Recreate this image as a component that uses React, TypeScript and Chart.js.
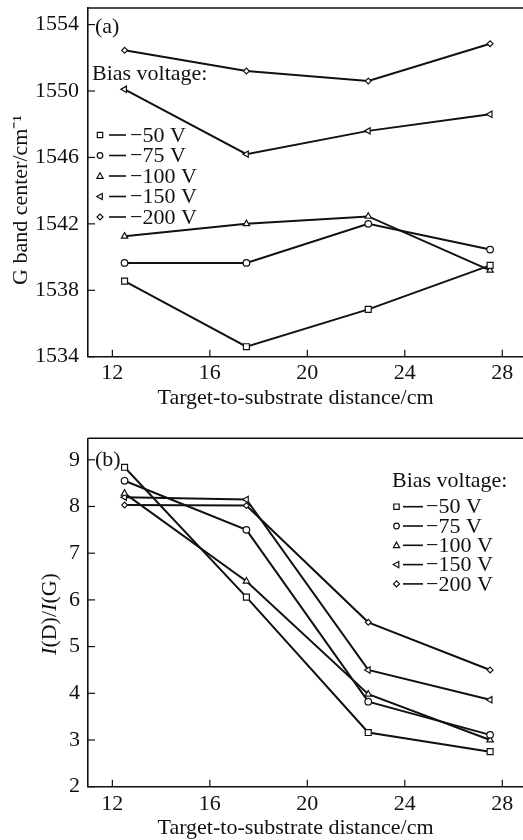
import React, { useEffect, useRef } from 'react';
import { Chart, registerables } from 'chart.js';

Chart.register(...registerables);

// ---------- data ----------
const distances = [12.5, 17.5, 22.5, 27.5];
const biasLabelsTop = ['−50 V', '−75 V', '−100 V', '−150 V', '−200 V'];
const biasLabelsBottom = ['−50 V', '−75 V', '−100 V', '−150 V', '−200 V'];

const gBand50 = [1538.55, 1534.6, 1536.85, 1539.5];
const gBand75 = [1539.65, 1539.65, 1542.0, 1540.45];
const gBand100 = [1541.25, 1542.0, 1542.45, 1539.2];
const gBand150 = [1550.1, 1546.2, 1547.6, 1548.6];
const gBand200 = [1552.45, 1551.2, 1550.6, 1552.85];

const ratio50 = [8.84, 6.06, 3.16, 2.75];
const ratio75 = [8.55, 7.5, 3.82, 3.11];
const ratio100 = [8.28, 6.4, 3.98, 3.0];
const ratio150 = [8.2, 8.15, 4.5, 3.86];
const ratio200 = [8.03, 8.02, 5.52, 4.5];

const xTicks = [12, 16, 20, 24, 28];
const gTicks = [1534, 1538, 1542, 1546, 1550, 1554];
const ratioTicks = [2, 3, 4, 5, 6, 7, 8, 9];

// ---------- styling ----------
const INK = '#111';
const FONT = "'Liberation Serif', 'Times New Roman', serif";
const FS = 22;
const markerStyles = [
  { pointStyle: 'rect', radius: 4.2, rotation: 0, legend: 'rect' },
  { pointStyle: 'circle', radius: 3.3, rotation: 0, legend: 'circle' },
  { pointStyle: 'triangle', radius: 3.7, rotation: 0, legend: 'triangle' },
  { pointStyle: 'triangle', radius: 3.7, rotation: -90, legend: 'triangleLeft' },
  { pointStyle: 'rectRot', radius: 2.9, rotation: 0, legend: 'diamond' },
];

function drawLegendMarker(ctx: CanvasRenderingContext2D, kind: string, x: number, y: number) {
  ctx.beginPath();
  if (kind === 'rect') {
    ctx.rect(x - 2.7, y - 2.7, 5.4, 5.4);
  } else if (kind === 'circle') {
    ctx.arc(x, y, 2.8, 0, Math.PI * 2);
  } else if (kind === 'triangle') {
    ctx.moveTo(x, y - 3.3);
    ctx.lineTo(x + 3.1, y + 2.3);
    ctx.lineTo(x - 3.1, y + 2.3);
    ctx.closePath();
  } else if (kind === 'triangleLeft') {
    ctx.moveTo(x - 3.3, y);
    ctx.lineTo(x + 2.3, y - 3.1);
    ctx.lineTo(x + 2.3, y + 3.1);
    ctx.closePath();
  } else {
    ctx.moveTo(x, y - 3);
    ctx.lineTo(x + 3, y);
    ctx.lineTo(x, y + 3);
    ctx.lineTo(x - 3, y);
    ctx.closePath();
  }
  ctx.fillStyle = '#fff';
  ctx.fill();
  ctx.lineWidth = 1.2;
  ctx.strokeStyle = INK;
  ctx.stroke();
}

type Seg = { t: string; italic?: boolean };

interface PanelCfg {
  series: number[][];
  labels: string[];
  yMin: number;
  yMax: number;
  yTicks: number[];
  height: number;
  padTop: number;
  xAxisH: number;
  xTickPad: number;
  yTickPad: number;
  panelLabel: string;
  panelLabelX: number;
  panelLabelY: number;
  legendTitleX: number;
  legendTitleY: number;
  legendRowY0: number;
  legendDy: number;
  markerX: number;
  lineX0: number;
  lineX1: number;
  textX: number;
  yTitle: Seg[];
  yTitleX: number;
  yTitleY: number;
  xTitleX: number;
  xTitleY: number;
}

const topPanel: PanelCfg = {
  series: [gBand50, gBand75, gBand100, gBand150, gBand200],
  labels: biasLabelsTop,
  yMin: 1534,
  yMax: 1555,
  yTicks: gTicks,
  height: 410,
  padTop: 8,
  xAxisH: 53.3,
  xTickPad: 3,
  yTickPad: 9,
  panelLabel: '(a)',
  panelLabelX: 95,
  panelLabelY: 27,
  legendTitleX: 92,
  legendTitleY: 74,
  legendRowY0: 135,
  legendDy: 20.5,
  markerX: 100,
  lineX0: 109,
  lineX1: 126,
  textX: 130,
  yTitle: [{ t: 'G band center/cm⁻¹' }],
  yTitleX: 21,
  yTitleY: 200,
  xTitleX: 295.5,
  xTitleY: 398,
};

const bottomPanel: PanelCfg = {
  series: [ratio50, ratio75, ratio100, ratio150, ratio200],
  labels: biasLabelsBottom,
  yMin: 2,
  yMax: 9.46,
  yTicks: ratioTicks,
  height: 430,
  padTop: 28.3,
  xAxisH: 53.3,
  xTickPad: 4,
  yTickPad: 8,
  panelLabel: '(b)',
  panelLabelX: 95,
  panelLabelY: 50,
  legendTitleX: 392,
  legendTitleY: 71.7,
  legendRowY0: 96.7,
  legendDy: 19.3,
  markerX: 396.5,
  lineX0: 403,
  lineX1: 423,
  textX: 426,
  yTitle: [{ t: 'I', italic: true }, { t: '(D)/' }, { t: 'I', italic: true }, { t: '(G)' }],
  yTitleX: 50,
  yTitleY: 204,
  xTitleX: 295.5,
  xTitleY: 418,
};

function makeChart(canvas: HTMLCanvasElement, cfg: PanelCfg) {
  const decor = {
    id: 'decor',
    afterDraw(chart: any) {
      const ctx: CanvasRenderingContext2D = chart.ctx;
      const { left, right, top, bottom } = chart.chartArea;
      const xs = chart.scales.x;
      const ys = chart.scales.y;
      ctx.save();
      ctx.strokeStyle = INK;
      ctx.lineWidth = 1.6;
      // top frame line
      ctx.beginPath();
      ctx.moveTo(left, top);
      ctx.lineTo(right, top);
      ctx.stroke();
      // inward ticks
      ctx.lineWidth = 1.2;
      xTicks.forEach((v) => {
        const px = xs.getPixelForValue(v);
        ctx.beginPath();
        ctx.moveTo(px, bottom);
        ctx.lineTo(px, bottom - 7);
        ctx.stroke();
      });
      cfg.yTicks.forEach((v) => {
        const py = ys.getPixelForValue(v);
        ctx.beginPath();
        ctx.moveTo(left, py);
        ctx.lineTo(left + 7, py);
        ctx.stroke();
      });
      // panel label
      ctx.fillStyle = INK;
      ctx.font = `${FS}px ${FONT}`;
      ctx.textBaseline = 'middle';
      ctx.textAlign = 'left';
      ctx.fillText(cfg.panelLabel, cfg.panelLabelX, cfg.panelLabelY);
      // legend
      ctx.fillText('Bias voltage:', cfg.legendTitleX, cfg.legendTitleY);
      cfg.labels.forEach((lab, i) => {
        const y = cfg.legendRowY0 + i * cfg.legendDy;
        ctx.strokeStyle = INK;
        ctx.lineWidth = 1.6;
        ctx.beginPath();
        ctx.moveTo(cfg.lineX0, y);
        ctx.lineTo(cfg.lineX1, y);
        ctx.stroke();
        drawLegendMarker(ctx, markerStyles[i].legend, cfg.markerX, y);
        ctx.fillStyle = INK;
        ctx.fillText(lab, cfg.textX, y + 1);
      });
      // x title
      ctx.textAlign = 'center';
      ctx.fillText('Target-to-substrate distance/cm', cfg.xTitleX, cfg.xTitleY);
      // y title (rotated, mixed italic)
      ctx.save();
      ctx.translate(cfg.yTitleX, cfg.yTitleY);
      ctx.rotate(-Math.PI / 2);
      ctx.textAlign = 'left';
      const fontOf = (s: Seg) => `${s.italic ? 'italic ' : ''}${FS}px ${FONT}`;
      let total = 0;
      cfg.yTitle.forEach((s) => {
        ctx.font = fontOf(s);
        total += ctx.measureText(s.t).width;
      });
      let cx = -total / 2;
      cfg.yTitle.forEach((s) => {
        ctx.font = fontOf(s);
        ctx.fillText(s.t, cx, 0);
        cx += ctx.measureText(s.t).width;
      });
      ctx.restore();
      ctx.restore();
    },
  };

  const datasets = cfg.series.map((vals, i) => ({
    label: cfg.labels[i],
    data: distances.map((d, j) => ({ x: d, y: vals[j] })),
    borderColor: INK,
    borderWidth: 2,
    pointStyle: markerStyles[i].pointStyle as any,
    pointRadius: markerStyles[i].radius,
    pointRotation: markerStyles[i].rotation,
    pointBackgroundColor: '#fff',
    pointBorderColor: INK,
    pointBorderWidth: 1.2,
    fill: false,
    tension: 0,
  }));

  return new Chart(canvas, {
    type: 'line',
    data: { datasets },
    plugins: [decor],
    options: {
      responsive: false,
      animation: false,
      devicePixelRatio: 1,
      layout: { autoPadding: false, padding: { top: cfg.padTop, left: 0, right: 0, bottom: 0 } },
      plugins: { legend: { display: false }, tooltip: { enabled: false } },
      scales: {
        x: {
          type: 'linear',
          min: 11,
          max: 28.85,
          afterBuildTicks: (s: any) => {
            s.ticks = xTicks.map((v) => ({ value: v }));
          },
          afterFit: (s: any) => {
            s.height = cfg.xAxisH;
            s.paddingLeft = 0;
            s.paddingRight = 0;
          },
          grid: { display: false, drawTicks: false },
          border: { display: true, color: INK, width: 1.6 },
          ticks: {
            padding: cfg.xTickPad,
            color: INK,
            font: { family: FONT, size: FS },
            maxRotation: 0,
            autoSkip: false,
            callback: (v: any) => String(v),
          },
        },
        y: {
          type: 'linear',
          min: cfg.yMin,
          max: cfg.yMax,
          afterBuildTicks: (s: any) => {
            s.ticks = cfg.yTicks.map((v) => ({ value: v }));
          },
          afterFit: (s: any) => {
            s.width = 88;
            s.paddingTop = 0;
            s.paddingBottom = 0;
          },
          grid: { display: false, drawTicks: false },
          border: { display: true, color: INK, width: 1.6 },
          ticks: {
            padding: cfg.yTickPad,
            color: INK,
            font: { family: FONT, size: FS },
            autoSkip: false,
            callback: (v: any) => String(v),
          },
        },
      },
    },
  } as any);
}

export default function App() {
  const topRef = useRef<HTMLCanvasElement>(null);
  const botRef = useRef<HTMLCanvasElement>(null);
  useEffect(() => {
    const c1 = makeChart(topRef.current!, topPanel);
    const c2 = makeChart(botRef.current!, bottomPanel);
    return () => {
      c1.destroy();
      c2.destroy();
    };
  }, []);
  return (
    <div style={{ position: 'fixed', left: 0, top: 0, width: 523, height: 840, background: '#fff' }}>
      <canvas
        ref={topRef}
        width={523}
        height={410}
        style={{ position: 'absolute', left: 0, top: 0, width: 523, height: 410 }}
      />
      <canvas
        ref={botRef}
        width={523}
        height={430}
        style={{ position: 'absolute', left: 0, top: 410, width: 523, height: 430 }}
      />
    </div>
  );
}
